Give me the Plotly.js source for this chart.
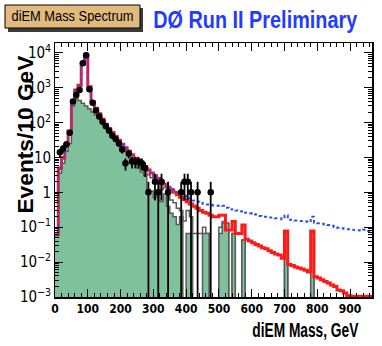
<!DOCTYPE html>
<html>
<head>
<meta charset="utf-8">
<script src="https://cdn.plot.ly/plotly-3.0.1.min.js"></script>
<style>
  html, body { margin: 0; padding: 0; background: #fff; }
  #chart { width: 382px; height: 346px; }
</style>
</head>
<body>
<div id="chart"></div>
<script>
// 10 GeV bins, lower edges 0 .. 960
const nBins = 97;
const binLow = Array.from({length: nBins}, (_, i) => i * 10);

// red: full prediction
const redModel = [
  0.06, 5, 10, 23, 57, 420, 850, 1180, 5000, 8500,
  1060, 390, 255, 180, 125, 90, 68, 52, 40, 31,
  24, 19, 15, 12, 9.5, 8, 6.5, 5.4, 4.4, 3.6,
  3.0, 2.5, 2.0, 1.7, 1.4, 1.2, 1.0, 0.85, 0.72, 0.62,
  0.54, 0.46, 0.4, 0.35, 0.3, 0.27, 0.25, 0.22, 0.2, 0.2,
  0.22, 0.22, 0.083, 0.083, 0.145, 0.066, 0.066, 0.115, 0.045, 0.04,
  0.036, 0.032, 0.029, 0.026, 0.024, 0.021, 0.019, 0.017, 0.016, 0.013,
  0.078, 0.0085, 0.008, 0.0072, 0.0068, 0.0063, 0.0058, 0.0052, 0.078, 0.0038,
  0.0035, 0.0031, 0.0028, 0.0025, 0.0022, 0.002, 0.0016, 0.0015, 0.0013, 0.0011,
  0.00105, 0.00105, 0.00105, 0.00105, 0.00105, 0.00105, 0.00105
];

// blue dotted: alternative prediction
const blueModel = [
  0.06, 5, 10, 23, 57, 420, 850, 1180, 5000, 8500,
  1060, 390, 255, 180, 125, 90, 68, 52, 40, 31,
  24, 19, 15, 12, 9.5, 8, 6.6, 5.5, 4.5, 3.7,
  3.1, 2.6, 2.2, 1.9, 1.6, 1.35, 1.15, 1.0, 0.88, 0.8,
  0.72, 0.65, 0.58, 0.54, 0.5, 0.47, 0.45, 0.44, 0.42, 0.41,
  0.42, 0.41, 0.36, 0.33, 0.32, 0.3, 0.28, 0.29, 0.26, 0.25,
  0.24, 0.23, 0.21, 0.2, 0.2, 0.19, 0.19, 0.18, 0.18, 0.17,
  0.22, 0.165, 0.16, 0.155, 0.15, 0.15, 0.145, 0.14, 0.2, 0.135,
  0.13, 0.125, 0.12, 0.115, 0.11, 0.1, 0.097, 0.093, 0.09, 0.088,
  0.085, 0.083, 0.082, 0.08, 0.085, 0.078, 0.077
];

// white histogram, grey outline
const whiteHist = [
  0.06, 4.5, 9, 21, 52, 400, 800, 1100, 4600, 7800,
  980, 360, 235, 165, 115, 83, 62, 47, 36, 28,
  20, 16, 12.5, 10, 8, 6.5, 5.2, 4.2, 3.2, 2.6,
  1.8, 1.8, 1.2, 1.4, 0.8, 0.6, 0.5, 0.35, 0.3, 0.15,
  0.3, 0.2, 0.066, 0.066, 0.066, 0.1, 0.066, 0, 0, 0,
  0.1, 0.145, 0.13, 0, 0.066, 0, 0, 0.043, 0, 0,
  0, 0, 0, 0, 0, 0, 0, 0, 0, 0,
  0.07, 0, 0, 0, 0, 0, 0, 0, 0.07, 0,
  0, 0, 0, 0, 0, 0, 0, 0, 0, 0,
  0, 0, 0, 0, 0, 0, 0
];

// green filled histogram
const greenHist = [
  0.06, 3.5, 6.8, 15, 25, 300, 480, 430, 360, 300,
  250, 200, 165, 130, 105, 80, 62, 48, 38, 28,
  20, 15, 11, 8.5, 6.5, 5, 3.8, 3, 1.2, 1.1,
  0.7, 1.0, 0.55, 0.9, 0.4, 0.25, 0.2, 0.12, 0.2, 0,
  0.066, 0.066, 0, 0, 0, 0.066, 0.066, 0, 0, 0,
  0.066, 0.13, 0.13, 0, 0.066, 0, 0, 0.043, 0, 0,
  0, 0, 0, 0, 0, 0, 0, 0, 0, 0,
  0.07, 0, 0, 0, 0, 0, 0, 0, 0.07, 0,
  0, 0, 0, 0, 0, 0, 0, 0, 0, 0,
  0, 0, 0, 0, 0, 0, 0
];

// data points (bin centres)
const dataMass = [15, 25, 35, 45, 55, 65, 75, 85, 95, 105, 115, 125, 135, 145, 155, 165, 175, 185, 195,
  205, 215, 225, 235, 245, 255, 265, 275, 285, 305, 315, 325, 345, 385, 395, 405, 415, 435, 475];
const dataEvents = [14, 18, 24, 51, 400, 620, 850, 5000, 8500, 900, 370, 220, 150, 105, 78, 58, 42, 34, 25,
  17, 6.8, 13, 7.6, 7.6, 7.6, 6.8, 5, 1, 2, 1, 2, 1, 1, 2, 2, 1, 1, 1];

const narrow = 'Liberation Sans Narrow, DejaVu Sans Condensed, Arial, sans-serif';
const sans = 'Liberation Sans, Arial, sans-serif';

function stepTrace(vals) {
  // empty bins go far below the axis so the outline drops to the bottom
  let y = vals.map(v => v > 0 ? v : 1e-6);
  return {
    x: binLow.concat([binLow[nBins - 1] + 10]),
    y: y.concat([y[y.length - 1]]),
    type: 'scatter',
    mode: 'lines',
    line: {shape: 'hv'},
    hoverinfo: 'skip',
    showlegend: false
  };
}

let white = stepTrace(whiteHist);
white.fill = 'tozeroy';
white.fillcolor = '#ffffff';
white.line.color = '#5a5a5a';
white.line.width = 1.5;

let green = stepTrace(greenHist);
green.fill = 'tozeroy';
green.fillcolor = '#80c19d';
green.line.color = '#5a5a5a';
green.line.width = 1.5;

let red = stepTrace(redModel);
red.line.color = '#ff1a1a';
red.line.width = 3;

let blue = stepTrace(blueModel);
blue.line.color = '#2f4dff';
blue.line.width = 2;
blue.line.dash = 'dot';

let data = {
  x: dataMass,
  y: dataEvents,
  type: 'scatter',
  mode: 'markers',
  marker: {color: '#000', size: 6.5},
  error_y: {
    type: 'data',
    symmetric: false,
    array: dataEvents.map(v => Math.sqrt(v)),
    arrayminus: dataEvents.map(v => Math.min(Math.sqrt(v), v - 1e-6)),
    color: '#000',
    thickness: 1.8,
    width: 0
  },
  showlegend: false
};

// plot area in pixels: x 55..372, y 43..297
const px = v => (v - 55) / 317;
const py = v => (297 - v) / 254;

// widths (px) the condensed labels should occupy
const labelWidths = [122, 204, 158, 106];

let layout = {
  width: 382,
  height: 346,
  margin: {l: 55, r: 10, t: 43, b: 49},
  paper_bgcolor: '#ffffff',
  plot_bgcolor: '#ffffff',
  showlegend: false,
  xaxis: {
    range: [0, 967],
    tick0: 0,
    dtick: 100,
    ticks: 'inside',
    ticklen: 8,
    tickwidth: 1,
    tickcolor: '#000',
    minor: {dtick: 20, ticks: 'inside', ticklen: 4, tickcolor: '#000'},
    showline: true,
    linecolor: '#000',
    linewidth: 1.5,
    mirror: 'ticks',
    showgrid: false,
    zeroline: false,
    tickfont: {family: narrow, size: 12, color: '#000', weight: 'bold'}
  },
  yaxis: {
    type: 'log',
    range: [-3, 4.28],
    dtick: 1,
    exponentformat: 'power',
    ticks: 'inside',
    ticklen: 8,
    tickwidth: 1,
    tickcolor: '#000',
    minor: {dtick: 'D1', ticks: 'inside', ticklen: 4, tickcolor: '#000'},
    showline: true,
    linecolor: '#000',
    linewidth: 1.5,
    mirror: 'ticks',
    showgrid: false,
    zeroline: false,
    tickfont: {family: narrow, size: 12, color: '#000'}
  },
  shapes: [
    {type: 'rect', xref: 'paper', yref: 'paper', x0: px(8), x1: px(143), y0: py(32), y1: py(8),
      fillcolor: '#3a3a3a', line: {width: 0}},
    {type: 'rect', xref: 'paper', yref: 'paper', x0: px(5), x1: px(140), y0: py(28), y1: py(5),
      fillcolor: '#e2ba7c', line: {color: '#000', width: 1}}
  ],
  annotations: [
    {text: 'diEM Mass Spectrum', xref: 'paper', yref: 'paper', x: px(72), y: py(16.5),
      xanchor: 'center', yanchor: 'middle', showarrow: false,
      font: {family: sans, size: 14, color: '#000'}},
    {text: 'DØ Run II Preliminary', xref: 'paper', yref: 'paper', x: px(255), y: py(20),
      xanchor: 'center', yanchor: 'middle', showarrow: false,
      font: {family: sans, size: 23, color: '#1f3cff', weight: 'bold'}},
    {text: 'Events/10 GeV', xref: 'paper', yref: 'paper', x: px(25), y: py(135),
      xanchor: 'center', yanchor: 'middle', textangle: -90, showarrow: false,
      font: {family: sans, size: 22, color: '#000', weight: 'bold'}},
    {text: 'diEM Mass, GeV', xref: 'paper', yref: 'paper', x: px(305), y: py(330),
      xanchor: 'center', yanchor: 'middle', showarrow: false,
      font: {family: sans, size: 19.5, color: '#000', weight: 'bold'}}
  ]
};

Plotly.newPlot('chart', [white, green, red, blue, data], layout, {displayModeBar: false, staticPlot: true})
  .then(gd => {
    // squeeze the labels to the condensed widths of the original
    gd.querySelectorAll('.annotation-text').forEach((t, i) => {
      t.setAttribute('textLength', labelWidths[i]);
      t.setAttribute('lengthAdjust', 'spacingAndGlyphs');
    });
  });
</script>
</body>
</html>
